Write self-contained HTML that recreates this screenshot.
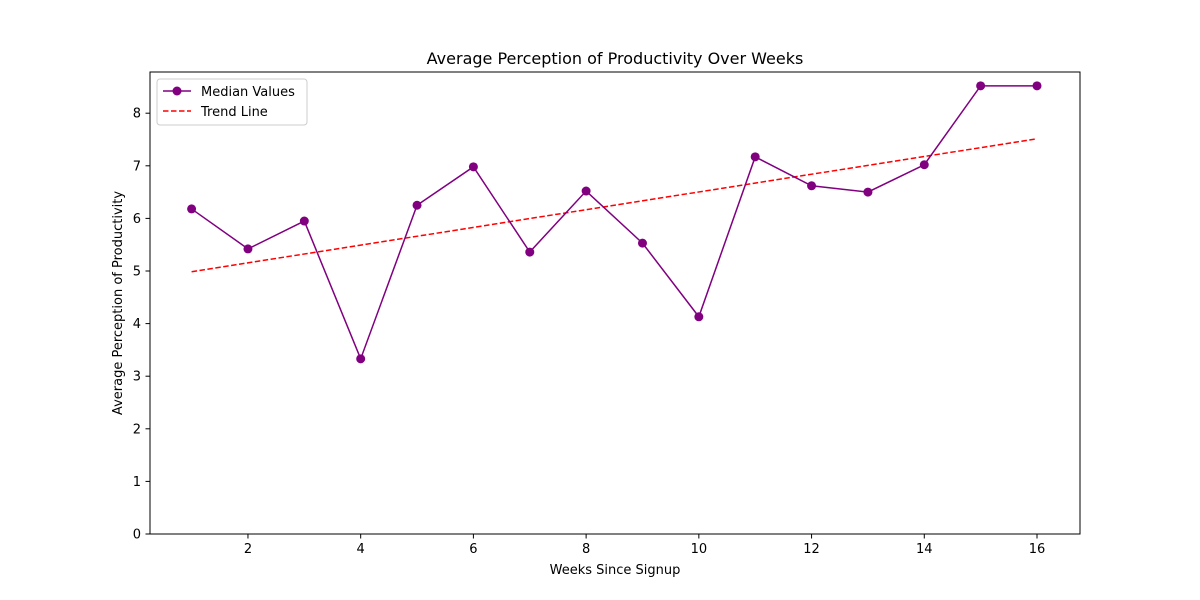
<!DOCTYPE html>
<html><head><meta charset="utf-8"><style>body{margin:0;background:#fff}svg{display:block;font-family:"DejaVu Sans","Liberation Sans",sans-serif}</style></head>
<body>
<svg id="chart" width="1200" height="600" viewBox="0 0 1200 600">
<rect width="1200" height="600" fill="#fff"/>
<text x="615" y="64" text-anchor="middle" font-size="16">Average Perception of Productivity Over Weeks</text>
<g id="grid"></g>
<g id="plot"></g>
<rect x="150" y="72" width="930" height="462" fill="none" stroke="#000" stroke-width="1"/>
<text x="615" y="574" text-anchor="middle" font-size="13">Weeks Since Signup</text>
<text transform="translate(122,303) rotate(-90)" text-anchor="middle" font-size="13">Average Perception of Productivity</text>
<g>
<rect x="157" y="79" width="150" height="46" rx="3" fill="#fff" stroke="#ccc"/>
<line x1="163" y1="91" x2="191" y2="91" stroke="purple" stroke-width="1.5"/>
<circle cx="177" cy="91" r="4.5" fill="purple"/>
<text x="201" y="96" font-size="13">Median Values</text>
<line x1="163" y1="111" x2="191" y2="111" stroke="red" stroke-width="1.5" stroke-dasharray="5.5,2.5"/>
<text x="201" y="116" font-size="13">Trend Line</text>
</g>
</svg>
<script>
const weeks=[1,2,3,4,5,6,7,8,9,10,11,12,13,14,15,16];
const medians=[6.18,5.42,5.95,3.33,6.25,6.98,5.36,6.52,5.53,4.13,7.17,6.62,6.50,7.02,8.52,8.52];
const xTicks=[2,4,6,8,10,12,14,16];
const yTicks=[0,1,2,3,4,5,6,7,8];
const NS="http://www.w3.org/2000/svg";
const xs=v=>191.6+(v-1)*56.36;
const ys=v=>534-v*52.6;
const plot=document.getElementById('plot'),grid=document.getElementById('grid');
function mk(t,a,p){const e=document.createElementNS(NS,t);for(const k in a)e.setAttribute(k,a[k]);p.appendChild(e);return e;}
xTicks.forEach(t=>{const x=xs(t);
const l=mk('line',{x1:x,y1:534,x2:x,y2:538.5,stroke:'#000'},grid);


const tx=mk('text',{x:x,y:553,'text-anchor':'middle','font-size':13},grid);tx.textContent=t;

});
yTicks.forEach(t=>{const y=ys(t);
const l=mk('line',{x1:145.5,y1:y,x2:150,y2:y,stroke:'#000'},grid);


const tx=mk('text',{x:141,y:y+4.5,'text-anchor':'end','font-size':13},grid);tx.textContent=t;

});
// regression
const n=weeks.length,mx=weeks.reduce((a,b)=>a+b)/n,my=medians.reduce((a,b)=>a+b)/n;
let sxy=0,sxx=0;weeks.forEach((x,i)=>{sxy+=(x-mx)*(medians[i]-my);sxx+=(x-mx)**2;});
const slope=sxy/sxx,ic=my-slope*mx;
const x0=weeks[0],x1=weeks[n-1];
const tl=mk('line',{x1:xs(x0),y1:ys(ic+slope*x0),x2:xs(x1),y2:ys(ic+slope*x1),stroke:'red','stroke-width':1.5,'stroke-dasharray':'5.5,2.5'},plot);


const pl=mk('polyline',{points:weeks.map((w,i)=>xs(w)+','+ys(medians[i])).join(' '),fill:'none',stroke:'purple','stroke-width':1.5},plot);


weeks.forEach((w,i)=>{const c=mk('circle',{cx:xs(w),cy:ys(medians[i]),r:4.5,fill:'purple'},plot);

});
</script>
</body></html>
